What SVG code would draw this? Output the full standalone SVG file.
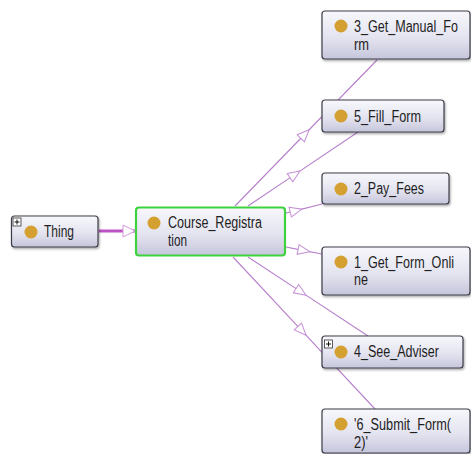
<svg xmlns="http://www.w3.org/2000/svg" width="471" height="454" viewBox="0 0 471 454">
  <defs>
    <linearGradient id="boxFill" x1="0" y1="0" x2="0" y2="1">
      <stop offset="0" stop-color="#f7f7fc"/>
      <stop offset="0.55" stop-color="#e4e4f0"/>
      <stop offset="1" stop-color="#c6c6dc"/>
    </linearGradient>
    <marker id="hollowTri" markerUnits="userSpaceOnUse" markerWidth="14" markerHeight="12" viewBox="-1 -1 14 12" refX="6" refY="5" orient="auto">
      <path d="M0,0 L12,5 L0,10 Z" fill="#ffffff" stroke="#c58fd6" stroke-width="1"/>
    </marker>
    <marker id="hollowTriEnd" markerUnits="userSpaceOnUse" markerWidth="14" markerHeight="14" viewBox="-1 -1 14 14" refX="12" refY="6" orient="auto">
      <path d="M0,0 L12,6 L0,12 Z" fill="#ffffff" stroke="#d39ada" stroke-width="1"/>
    </marker>
    <filter id="shadow" x="-10%" y="-10%" width="130%" height="140%">
      <feDropShadow dx="1" dy="1.5" stdDeviation="0.8" flood-color="#000000" flood-opacity="0.35"/>
    </filter>
  </defs>
  <style>
    .edge { fill: none; stroke: #b77fcc; stroke-width: 1.1; marker-mid: url(#hollowTri); }
    .box { fill: url(#boxFill); stroke: #3e3e4a; stroke-width: 1.2; filter: url(#shadow); }
    .focus { fill: url(#boxFill); stroke: #3ed23e; stroke-width: 2.2; }
    .dot { fill: #d3a031; }
    .lbl { font-family: "Liberation Sans", Arial, sans-serif; font-size: 13.5px; fill: #1e1e1e; }
    .plus { fill: #ffffff; stroke: #333333; stroke-width: 0.8; }
    .plusMark { stroke: #111111; stroke-width: 1; }
  </style>
  <rect width="471" height="454" fill="#ffffff"/>

  <!-- connectors -->
  <g id="connectors">
    <line x1="99" y1="231" x2="135" y2="231" stroke="#bd52c6" stroke-width="3" marker-end="url(#hollowTriEnd)"/>
    <path class="edge" d="M235,206 L305,134 L377,60"/>
    <path class="edge" d="M248,206 L295,174.4 L358,132"/>
    <path class="edge" d="M286,213 L296,210.6 L322,204"/>
    <path class="edge" d="M286,247 L304,250.6 L322,254"/>
    <path class="edge" d="M248,257 L301,291.9 L368,336"/>
    <path class="edge" d="M233,257 L302,330.9 L375,409"/>
  </g>

  <!-- nodes (labels are drawn slightly tall: scaled 1.2 vertically) -->
  <g id="node-thing">
    <rect class="box" x="11.5" y="216" width="86.5" height="31" rx="3"/>
    <rect class="plus" x="13" y="218" width="8" height="8"/>
    <line class="plusMark" x1="14.5" y1="222" x2="19.5" y2="222"/>
    <line class="plusMark" x1="17" y1="219.5" x2="17" y2="224.5"/>
    <circle class="dot" cx="31" cy="232" r="6.5"/>
    <text class="lbl" transform="matrix(1 0 0 1.2 44 237)" textLength="30" lengthAdjust="spacingAndGlyphs">Thing</text>
  </g>

  <g id="node-course-registration">
    <rect class="focus" x="136" y="207.5" width="149" height="48" rx="3"/>
    <circle class="dot" cx="154" cy="223" r="6.5"/>
    <text class="lbl" transform="matrix(1 0 0 1.2 168 228)" textLength="94" lengthAdjust="spacingAndGlyphs">Course_Registra</text>
    <text class="lbl" transform="matrix(1 0 0 1.2 168 246)" textLength="19" lengthAdjust="spacingAndGlyphs">tion</text>
  </g>

  <g id="node-3-get-manual-form">
    <rect class="box" x="322" y="11" width="148" height="48" rx="3"/>
    <circle class="dot" cx="341" cy="26" r="6.5"/>
    <text class="lbl" transform="matrix(1 0 0 1.2 354 32)" textLength="104" lengthAdjust="spacingAndGlyphs">3_Get_Manual_Fo</text>
    <text class="lbl" transform="matrix(1 0 0 1.2 354 50)" textLength="15" lengthAdjust="spacingAndGlyphs">rm</text>
  </g>

  <g id="node-5-fill-form">
    <rect class="box" x="322" y="100" width="122" height="32" rx="3"/>
    <circle class="dot" cx="341" cy="116" r="6.5"/>
    <text class="lbl" transform="matrix(1 0 0 1.2 354 122)" textLength="67" lengthAdjust="spacingAndGlyphs">5_Fill_Form</text>
  </g>

  <g id="node-2-pay-fees">
    <rect class="box" x="322" y="173" width="127" height="31" rx="3"/>
    <circle class="dot" cx="341" cy="189" r="6.5"/>
    <text class="lbl" transform="matrix(1 0 0 1.2 354 194)" textLength="70" lengthAdjust="spacingAndGlyphs">2_Pay_Fees</text>
  </g>

  <g id="node-1-get-form-online">
    <rect class="box" x="322" y="247" width="148" height="48" rx="3"/>
    <circle class="dot" cx="341" cy="262" r="6.5"/>
    <text class="lbl" transform="matrix(1 0 0 1.2 354 268)" textLength="100" lengthAdjust="spacingAndGlyphs">1_Get_Form_Onli</text>
    <text class="lbl" transform="matrix(1 0 0 1.2 354 285)" textLength="14" lengthAdjust="spacingAndGlyphs">ne</text>
  </g>

  <g id="node-4-see-adviser">
    <rect class="box" x="322" y="336" width="141" height="32" rx="3"/>
    <rect class="plus" x="324.5" y="340" width="8" height="8"/>
    <line class="plusMark" x1="326" y1="344" x2="331" y2="344"/>
    <line class="plusMark" x1="328.5" y1="341.5" x2="328.5" y2="346.5"/>
    <circle class="dot" cx="341" cy="352" r="6.5"/>
    <text class="lbl" transform="matrix(1 0 0 1.2 354 357)" textLength="85" lengthAdjust="spacingAndGlyphs">4_See_Adviser</text>
  </g>

  <g id="node-6-submit-form-2">
    <rect class="box" x="322" y="409" width="148" height="44" rx="3"/>
    <circle class="dot" cx="341" cy="424" r="6.5"/>
    <text class="lbl" transform="matrix(1 0 0 1.2 354 430)" textLength="97" lengthAdjust="spacingAndGlyphs">'6_Submit_Form(</text>
    <text class="lbl" transform="matrix(1 0 0 1.2 354 448)" textLength="14" lengthAdjust="spacingAndGlyphs">2)'</text>
  </g>
</svg>
